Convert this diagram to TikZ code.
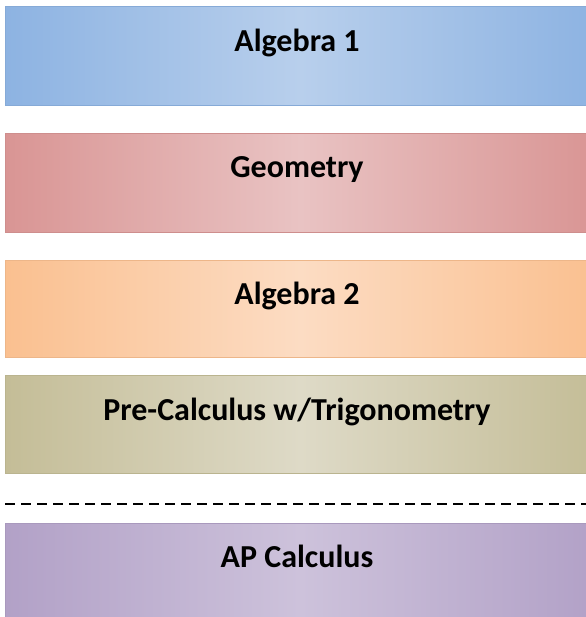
\documentclass[tikz,border=0pt]{standalone}
\usepackage{fontspec}
\setmainfont{Carlito}
\usetikzlibrary{positioning}
% course colours (edge and centre of each bar)
\definecolor{algAedge}{HTML}{8DB3E2}
\definecolor{algAmid}{HTML}{B8CFEC}
\definecolor{geoedge}{HTML}{D99594}
\definecolor{geomid}{HTML}{E9C3C3}
\definecolor{algBedge}{HTML}{FAC090}
\definecolor{algBmid}{HTML}{FCDCC3}
\definecolor{precedge}{HTML}{C4BD97}
\definecolor{precmid}{HTML}{DEDAC7}
\definecolor{apedge}{HTML}{B2A1C7}
\definecolor{apmid}{HTML}{CDC2DB}
\tikzset{
  course/.style={rectangle, anchor=north west, minimum width=590pt, minimum height=99pt, inner sep=0pt, draw=#1!95!black, line width=0.5pt, left color=#1, right color=#1},
  coursename/.style={anchor=base, font=\fontsize{32}{37}\selectfont\bfseries, text=black}
}
\begin{document}
\begin{tikzpicture}[x=1pt,y=-1pt]
        \useasboundingbox (0,0) rectangle (585,617);
        % Bars
        \node[course=algAedge, middle color=algAmid] (alg1) at (5,6) {};
        \node[course=geoedge, middle color=geomid] (geo) at (5,133) {};
        \node[course=algBedge, middle color=algBmid, minimum height=97pt] (alg2) at (5,260) {};
        \node[course=precedge, middle color=precmid, minimum height=98pt] (prec) at (5,375) {};
        \node[course=apedge, middle color=apmid, minimum height=110pt] (ap) at (5,523) {};
        % Course names
        \coordinate (mid) at (297,0);
        \node[coursename] (alg1t) at (mid |- 0,52) {Algebra 1};
        \node[coursename] (geot) at (mid |- 0,178) {Geometry};
        \node[coursename] (alg2t) at (mid |- 0,304) {Algebra 2};
        \node[coursename] (prect) at (mid |- 0,420) {Pre-Calculus w/Trigonometry};
        \node[coursename] (apt) at (mid |- 0,567) {AP Calculus};
        % Dashed divider
        \coordinate (divl) at (5,504);
        \coordinate (divr) at (590,504);
        \draw[line width=1.6pt, dash pattern=on 10pt off 6pt] (divl) -- (divr);
\end{tikzpicture}
\end{document}
